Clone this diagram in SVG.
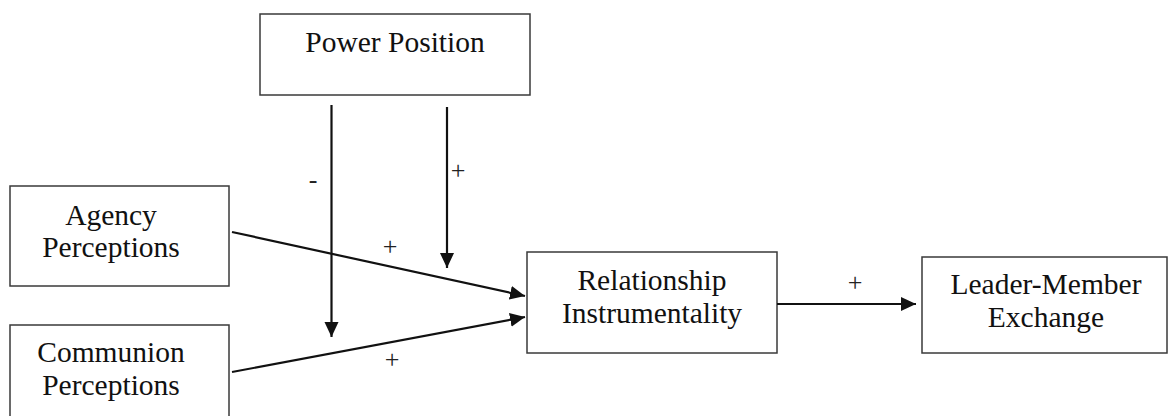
<svg xmlns="http://www.w3.org/2000/svg" width="1168" height="416" viewBox="0 0 1168 416">
<style>
.box{fill:#fff;stroke:#3a3a3a;stroke-width:1.5}
.t{font-family:"Liberation Serif","Times New Roman",serif;font-size:29.5px;fill:#111;text-anchor:middle}
.lbl{font-family:"Liberation Serif","Times New Roman",serif;font-size:26px;fill:#222;text-anchor:middle}
.c{stroke:#111;stroke-width:2.2;fill:none;marker-end:url(#ah)}
</style>
<defs>
<marker id="ah" markerUnits="userSpaceOnUse" markerWidth="16" markerHeight="15" refX="15" refY="7" orient="auto">
<path d="M0,0 L15,7 L0,14 z" fill="#111"/>
</marker>
</defs>
<rect width="1168" height="416" fill="#fff"/>
<g id="power">
<rect class="box" x="260" y="14" width="270" height="81"/>
<text class="t" x="395" y="52">Power Position</text>
</g>
<g id="agency">
<rect class="box" x="10" y="186" width="219" height="100"/>
<text class="t" x="111" y="225">Agency</text>
<text class="t" x="111" y="257">Perceptions</text>
</g>
<g id="communion">
<rect class="box" x="10" y="325" width="219" height="100"/>
<text class="t" x="111" y="362">Communion</text>
<text class="t" x="111" y="395">Perceptions</text>
</g>
<g id="relationship">
<rect class="box" x="527" y="252" width="250" height="101"/>
<text class="t" x="652" y="290">Relationship</text>
<text class="t" x="652" y="323">Instrumentality</text>
</g>
<g id="lmx">
<rect class="box" x="922" y="257" width="245" height="96"/>
<text class="t" x="1046" y="294">Leader-Member</text>
<text class="t" x="1046" y="327">Exchange</text>
</g>
<g id="connectors">
<line class="c" x1="232" y1="232" x2="525" y2="296"/>
<line class="c" x1="232" y1="372" x2="525" y2="317"/>
<line class="c" x1="331.5" y1="105" x2="331.5" y2="337"/>
<line class="c" x1="447" y1="107" x2="447" y2="268"/>
<line class="c" x1="777" y1="304" x2="916" y2="304"/>
<text class="lbl" x="313" y="188">-</text>
<text class="lbl" x="458" y="179">+</text>
<text class="lbl" x="390" y="255">+</text>
<text class="lbl" x="392" y="368">+</text>
<text class="lbl" x="855" y="291">+</text>
</g>
</svg>
